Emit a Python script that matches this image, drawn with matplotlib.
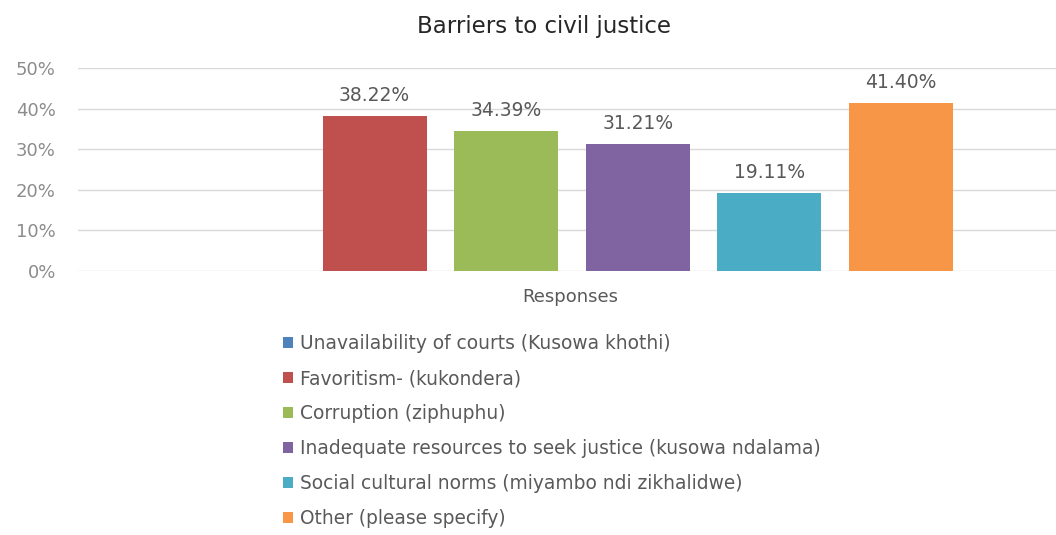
import matplotlib
matplotlib.use("Agg")
import matplotlib.pyplot as plt
import numpy as np
from matplotlib.patches import Patch

categories = [
    "Unavailability of courts (Kusowa khothi)",
    "Favoritism- (kukondera)",
    "Corruption (ziphuphu)",
    "Inadequate resources to seek justice (kusowa ndalama)",
    "Social cultural norms (miyambo ndi zikhalidwe)",
    "Other (please specify)",
]
values = [np.nan, 38.22, 34.39, 31.21, 19.11, 41.40]
colors = ["#4F81BD", "#C0504D", "#9BBB59", "#8064A2", "#4BACC6", "#F79646"]
yticks = [0, 10, 20, 30, 40, 50]
group_label = "Responses"
title = "Barriers to civil justice"

plt.rcParams['font.family'] = ['DejaVu Sans']
W, H = 1056, 535
fig = plt.figure(figsize=(W / 100, H / 100), dpi=100)
ax = fig.add_axes([78 / W, (H - 271) / H, (1056 - 78) / W, (271 - 68) / H])

x = np.arange(len(categories))
for i, (v, c) in enumerate(zip(values, colors)):
    if np.isnan(v):
        continue
    ax.bar(x[i], v, width=0.79, color=c, zorder=3)
    ax.text(x[i], v + 3.7, f"{v:.2f}%", ha="center", va="baseline",
            fontsize=13.5, color="#595959")

ax.set_xlim(-1.255, 6.18)
ax.set_ylim(0, 50)
ax.set_yticks(yticks)
ax.set_yticklabels([f"{t}%" for t in yticks], fontsize=13, color="#8C8C8C")
ax.tick_params(axis="y", length=0, pad=16)
ax.set_xticks([])
ax.grid(axis="y", color="#D9D9D9", linewidth=1, zorder=0)
for s in ax.spines.values():
    s.set_visible(False)

fig.text(570 / W, 1 - 297 / H, group_label, ha="center", va="center",
         fontsize=13, color="#595959")
fig.text(544 / W, 1 - 27 / H, title, ha="center", va="center",
         fontsize=16.5, color="#262626")

handles = [Patch(facecolor=c, edgecolor="none") for c in colors]
fig.legend(handles, categories, loc="upper left",
           bbox_to_anchor=(283 / W, 1 - 334 / H), frameon=False,
           fontsize=13.4, labelcolor="#595959", handlelength=0.52,
           handleheight=0.52, handletextpad=0.4, labelspacing=0.86,
           borderaxespad=0, borderpad=0)

fig.savefig("out.png", dpi=100, facecolor="white")
